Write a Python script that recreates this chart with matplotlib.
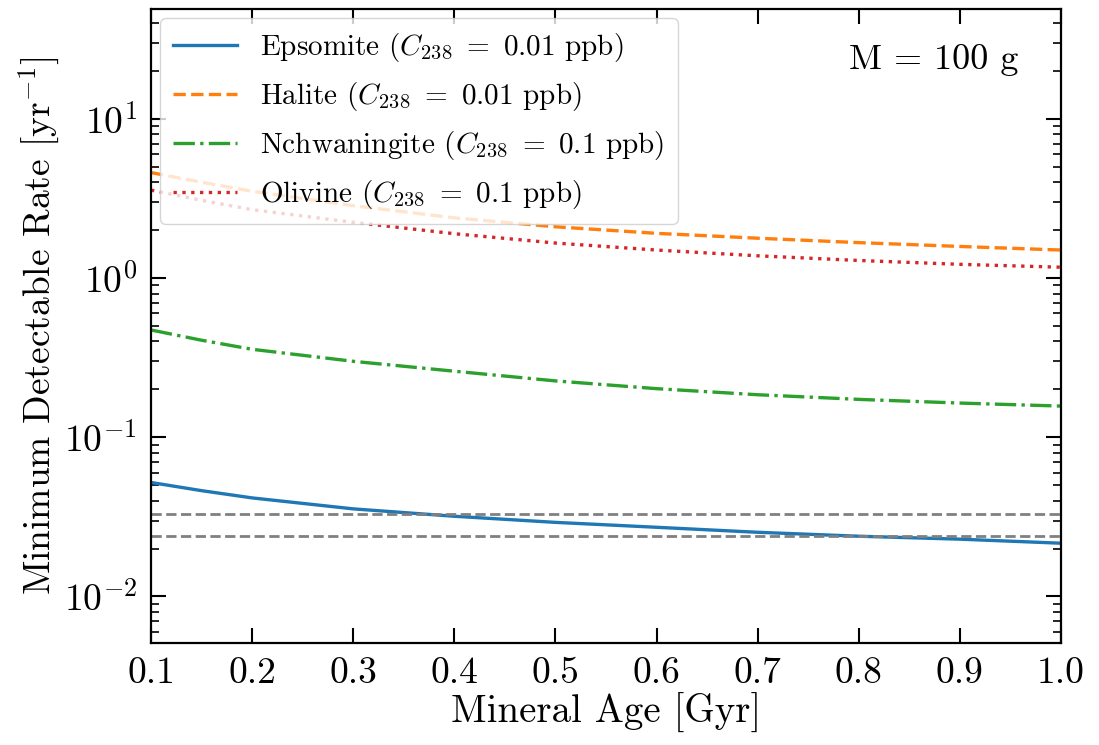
import numpy as np
import matplotlib
matplotlib.use("Agg")
import matplotlib.pyplot as plt
from matplotlib.ticker import LogLocator, NullFormatter

plt.rcParams['font.family'] = 'serif'
plt.rcParams['font.serif'] = ['cmr10']
plt.rcParams['mathtext.fontset'] = 'cm'
plt.rcParams['axes.formatter.use_mathtext'] = True

# Edad del mineral [Gyr]
edad = [0.1, 0.15, 0.2, 0.3, 0.4, 0.5, 0.6, 0.7, 0.8, 0.9, 1.0]

# Tasa minima detectable [yr^-1]
epsomita = [0.052, 0.0462, 0.0416, 0.0355, 0.0319, 0.0292, 0.0272, 0.0253, 0.0239, 0.0229, 0.0216]
halita = [4.60, 4.0, 3.51, 2.85, 2.39, 2.10, 1.91, 1.78, 1.67, 1.58, 1.50]
nchwaningita = [0.472, 0.407, 0.357, 0.300, 0.260, 0.226, 0.202, 0.185, 0.173, 0.164, 0.157]
olivino = [3.57, 3.08, 2.69, 2.24, 1.90, 1.66, 1.50, 1.38, 1.29, 1.22, 1.17]

# Lineas horizontales de referencia
referencias = [0.0329, 0.0239]

etiquetas = [
    r'Epsomite ($C_{238}\ =\ 0.01$ ppb)',
    r'Halite ($C_{238}\ =\ 0.01$ ppb)',
    r'Nchwaningite ($C_{238}\ =\ 0.1$ ppb)',
    r'Olivine ($C_{238}\ =\ 0.1$ ppb)',
]

fig = plt.figure(figsize=(10.99, 7.45), dpi=100)
ax = fig.add_axes([0.1374, 0.1369, 0.828, 0.851])

lw = 2.4
ax.plot(edad, epsomita, color='C0', ls='-', lw=lw, label=etiquetas[0])
ax.plot(edad, halita, color='C1', ls='--', lw=lw, label=etiquetas[1])
ax.plot(edad, nchwaningita, color='C2', ls='-.', lw=lw, label=etiquetas[2])
ax.plot(edad, olivino, color='C3', ls=':', lw=lw, label=etiquetas[3])

for r in referencias:
    ax.axhline(r, color='gray', ls='--', lw=2)

ax.set_yscale('log')
ax.set_xlim(0.1, 1.0)
ax.set_ylim(5.1e-3, 49)
ax.set_xticks(np.arange(0.1, 1.01, 0.1))
ax.set_xticklabels([f'{v:.1f}' for v in np.arange(0.1, 1.01, 0.1)])
ax.yaxis.set_major_locator(LogLocator(base=10, numticks=10))
ax.yaxis.set_minor_locator(LogLocator(base=10, subs=np.arange(2, 10), numticks=20))
ax.yaxis.set_minor_formatter(NullFormatter())

ax.tick_params(which='both', direction='in', top=True, right=True, labelsize=27)
ax.tick_params(which='major', length=11, width=1.5, pad=10)
ax.tick_params(which='minor', length=6, width=1.2)
for s in ax.spines.values():
    s.set_linewidth(1.6)

ax.set_xlabel('Mineral Age [Gyr]', fontsize=28, labelpad=2)
ax.set_ylabel(r'Minimum Detectable Rate [yr$^{-1}$]', fontsize=27, labelpad=2)

ax.text(0.953, 0.92, 'M = 100 g', transform=ax.transAxes, ha='right', va='center', fontsize=26)

ax.legend(loc='upper left', fontsize=21, borderaxespad=0.3, handlelength=2.2,
          labelspacing=0.55, borderpad=0.45)

fig.savefig('out.png', dpi=100)
